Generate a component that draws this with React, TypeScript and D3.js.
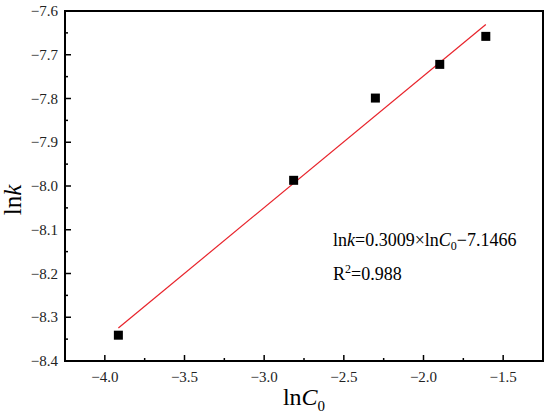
import React from 'react'
import { scaleLinear, range, line } from 'd3'

const lnC0: number[] = [-3.915, -2.815, -2.302, -1.898, -1.609]
const lnK: number[] = [-8.341, -7.987, -7.799, -7.722, -7.658]
const fitSlope = 0.3009
const fitIntercept = -7.1466
const xTicks: number[] = [-4.0, -3.5, -3.0, -2.5, -2.0, -1.5]
const yTicks: number[] = [-8.4, -8.3, -8.2, -8.1, -8.0, -7.9, -7.8, -7.7, -7.6]

const WIDTH = 550
const HEIGHT = 418
const M = { left: 65, right: 7, top: 11, bottom: 57 }
const FONT = '"Liberation Serif", "Times New Roman", serif'

const fmt = (v: number) => (v < 0 ? '\u2212' : '') + Math.abs(v).toFixed(1)

export default function App() {
  const x = scaleLinear().domain([-4.25, -1.25]).range([M.left, WIDTH - M.right])
  const y = scaleLinear().domain([-8.4, -7.6]).range([HEIGHT - M.bottom, M.top])

  const x0 = x.range()[0]
  const x1 = x.range()[1]
  const y0 = y.range()[0]
  const y1 = y.range()[1]

  const xMinor = range(-4.25, -1.25, 0.25).filter((v) => !xTicks.some((t) => Math.abs(t - v) < 1e-6))
  const yMinor = range(-8.35, -7.6, 0.1)

  const fitX = [Math.min(...lnC0), Math.max(...lnC0)]
  const fitPath = line<number>()
    .x((d) => x(d))
    .y((d) => y(fitSlope * d + fitIntercept))(fitX)

  return (
    <svg
      width={WIDTH}
      height={HEIGHT}
      style={{ position: 'absolute', left: 0, top: 0, background: '#fff' }}
      fontFamily={FONT}
    >
      {/* ticks */}
      <g stroke="#000" strokeWidth={1.5}>
        {xTicks.map((t) => (
          <line key={'xt' + t} x1={x(t)} x2={x(t)} y1={y0} y2={y0 - 6} />
        ))}
        {xMinor.map((t) => (
          <line key={'xm' + t} x1={x(t)} x2={x(t)} y1={y0} y2={y0 - 3} />
        ))}
        {yTicks.map((t) => (
          <line key={'yt' + t} x1={x0} x2={x0 + 6} y1={y(t)} y2={y(t)} />
        ))}
        {yMinor.map((t) => (
          <line key={'ym' + t} x1={x0} x2={x0 + 3} y1={y(t)} y2={y(t)} />
        ))}
      </g>
      <rect x={x0} y={y1} width={x1 - x0} height={y0 - y1} fill="none" stroke="#000" strokeWidth={2} />

      {/* tick labels */}
      <g fontSize={15} fill="#222">
        {xTicks.map((t) => (
          <text key={'xl' + t} x={x(t)} y={y0 + 21} textAnchor="middle">
            {fmt(t)}
          </text>
        ))}
        {yTicks.map((t) => (
          <text key={'yl' + t} x={x0 - 7} y={y(t) + 5} textAnchor="end">
            {fmt(t)}
          </text>
        ))}
      </g>

      {/* fit line and points */}
      <path d={fitPath || ''} fill="none" stroke="#e8232b" strokeWidth={1.2} />
      {lnC0.map((d, i) => (
        <rect key={'p' + i} x={x(d) - 4.5} y={y(lnK[i]) - 4.5} width={9} height={9} fill="#000" />
      ))}

      {/* equation */}
      <text x={333} y={246} fontSize={18} fill="#000">
        ln<tspan fontStyle="italic">k</tspan>=0.3009×ln<tspan fontStyle="italic">C</tspan>
        <tspan fontSize={12} dy={4}>0</tspan>
        <tspan dy={-4}>−7.1466</tspan>
      </text>
      <text x={333} y={280} fontSize={18} fill="#000">
        R<tspan fontSize={12} dy={-7}>2</tspan>
        <tspan dy={7}>=0.988</tspan>
      </text>

      {/* axis titles */}
      <text x={(x0 + x1) / 2} y={405} fontSize={24} textAnchor="middle" fill="#000">
        ln<tspan fontStyle="italic">C</tspan>
        <tspan fontSize={15} dy={6}>0</tspan>
      </text>
      <text transform={`translate(21, ${(y0 + y1) / 2 + 14}) rotate(-90)`} fontSize={25} textAnchor="middle" fill="#000">
        ln<tspan fontStyle="italic">k</tspan>
      </text>
    </svg>
  )
}
